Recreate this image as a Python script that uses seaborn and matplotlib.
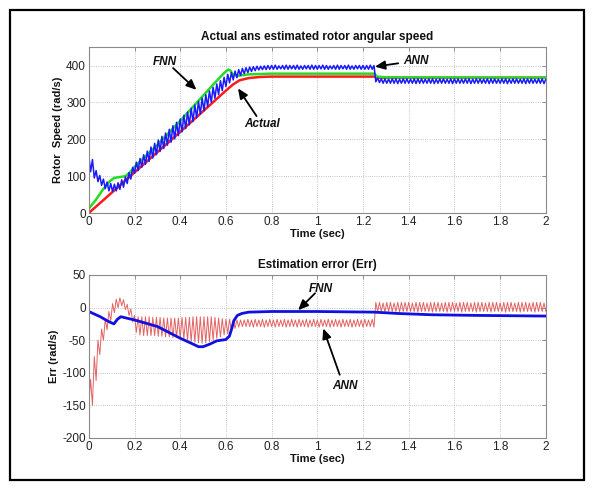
import numpy as np
import pandas as pd
import matplotlib
matplotlib.use("Agg")
import matplotlib.pyplot as plt
import seaborn as sns
from matplotlib.patches import Rectangle

# ---------------- data ----------------
# Top plot: actual speed (smooth)
t_actual = [0, 0.2, 0.4, 0.6, 0.63, 0.66, 0.7, 0.75, 0.8, 1.25, 1.26, 2.0]
speed_actual = [0, 110, 220, 332, 348, 360, 366, 369, 370, 370, 367, 367]

# Top plot: FNN estimated speed (smooth)
t_fnn = [0, 0.03, 0.06, 0.09, 0.11, 0.13, 0.16, 0.18, 0.2, 0.3, 0.4, 0.5, 0.55,
         0.58, 0.6, 0.61, 0.62, 0.63, 0.65, 0.7, 0.8, 1.25, 1.26, 1.3, 2.0]
speed_fnn = [12, 35, 62, 85, 95, 97, 100, 110, 125, 185, 250, 318, 352,
             372, 384, 389, 386, 376, 372, 376, 378, 378, 370, 368, 367]

# ANN samples (oscillating), sample step 0.008 s, 251 samples 0..2 s
t_ann = [round(0.008 * k, 3) for k in range(251)]
speed_ann = [
    155, 112, 145, 95, 115, 85, 102, 75, 92, 66, 84, 60, 80, 58, 78, 60, 82, 64, 90, 70, 98, 80, 110, 92, 124,
    108, 138, 115, 148, 124, 158, 132, 168, 140, 179, 149, 189, 158, 198, 167, 208, 175, 217, 184, 227, 192, 237, 201, 246, 210,
    255, 220, 265, 229, 274, 239, 284, 248, 293, 258, 303, 268, 312, 277, 321, 289, 331, 300, 341, 311, 350, 321, 359, 332, 368,
    343, 376, 353, 381, 361, 385, 367, 389, 373, 392, 378, 394, 381, 396, 384, 397, 386, 398, 388, 398, 389, 399, 389, 400, 390,
    400, 390, 401, 390, 399, 391, 400, 390, 401, 390, 400, 391, 400, 390, 401, 390, 399, 390, 400, 391, 400, 390, 401, 390, 400,
    390, 400, 391, 401, 390, 400, 390, 399, 391, 400, 390, 401, 390, 400, 391, 400, 390, 401, 390, 399, 390, 400, 391, 400, 390,
    400, 390, 400, 390, 401, 390, 400, 356, 366, 354, 364, 352, 364, 352, 363, 352, 364, 352, 364, 351, 363, 352, 364, 352, 364,
    352, 363, 352, 364, 351, 364, 352, 364, 352, 363, 352, 364, 352, 364, 351, 363, 352, 364, 352, 364, 352, 363, 352, 364, 351,
    364, 352, 364, 352, 363, 352, 364, 352, 364, 351, 363, 352, 364, 352, 364, 352, 363, 352, 364, 351, 364, 352, 364, 352, 363,
    352, 364, 352, 364, 351, 363, 352, 364, 352, 364, 352, 363, 352, 364, 351, 364, 352, 364, 352, 363, 352, 364, 352, 364, 351,
    363,
]

err_ann = [
    -150, -110, -150, -75, -112, -50, -72, -33, -50, -18, -34, -6, -20, 6, -8, 13, 0, 15, 3, 12, -3, 5, -12, -2, -22,
    -12, -38, -14, -42, -14, -43, -14, -43, -14, -43, -15, -43, -15, -44, -15, -44, -16, -45, -16, -45, -16, -46, -16, -46, -16,
    -47, -15, -48, -15, -50, -15, -52, -14, -53, -14, -54, -14, -55, -14, -54, -14, -52, -14, -50, -15, -47, -16, -45, -17, -42,
    -18, -40, -18, -36, -19, -32, -19, -30, -19, -29, -19, -29, -18, -29, -19, -30, -18, -29, -19, -29, -18, -30, -19, -29, -18,
    -29, -19, -30, -18, -29, -19, -29, -18, -30, -19, -29, -18, -29, -19, -30, -18, -29, -19, -29, -18, -30, -19, -29, -18, -29,
    -19, -30, -18, -29, -19, -29, -18, -30, -19, -29, -18, -29, -19, -30, -18, -29, -19, -29, -18, -30, -19, -29, -18, -29, -19,
    -30, -18, -29, -19, -29, -18, -30, 8, -6, 8, -6, 7, -7, 8, -6, 8, -6, 7, -6, 8, -7, 8, -6, 8, -6,
    8, -6, 7, -6, 8, -7, 8, -6, 8, -6, 7, -6, 8, -7, 8, -6, 8, -6, 7, -6, 8, -7, 8, -6, 8,
    -6, 7, -6, 8, -7, 8, -6, 8, -6, 7, -6, 8, -7, 8, -6, 8, -6, 7, -6, 8, -7, 8, -6, 8, -6,
    7, -6, 8, -7, 8, -6, 8, -6, 7, -6, 8, -7, 8, -6, 8, -6, 7, -6, 8, -7, 8, -6, 8, -6, 7,
    -6,
]

# Bottom plot: FNN error (smooth)
t_fnn_err = [0, 0.05, 0.09, 0.11, 0.125, 0.14, 0.2, 0.3, 0.4, 0.45, 0.48, 0.5, 0.53,
             0.56, 0.6, 0.615, 0.625, 0.635, 0.65, 0.67, 0.7, 0.8, 1.0, 1.25, 1.35,
             1.5, 1.7, 2.0]
err_fnn = [-6, -14, -22, -25, -18, -14, -19, -29, -47, -55, -60, -60, -56,
           -51, -49, -44, -33, -20, -12, -9, -7, -6, -6, -7, -9,
           -11, -12, -13]

x_ticks = [0, 0.2, 0.4, 0.6, 0.8, 1, 1.2, 1.4, 1.6, 1.8, 2]
x_tick_labels = ["0", "0.2", "0.4", "0.6", "0.8", "1", "1.2", "1.4", "1.6", "1.8", "2"]
speed_ticks = [0, 100, 200, 300, 400]
err_ticks = [-200, -150, -100, -50, 0, 50]

# ---------------- style ----------------
sns.set_theme(style="white")
plt.rcParams["font.family"] = ["Liberation Sans", "DejaVu Sans"]
plt.rcParams["axes.unicode_minus"] = False

fig = plt.figure(figsize=(5.92, 4.88), dpi=100)
ax1 = fig.add_axes([0.150, 0.5635, 0.772, 0.340])
ax2 = fig.add_axes([0.150, 0.1025, 0.772, 0.334])

# outer frame
fig.add_artist(Rectangle((10 / 592, 8 / 488), 574 / 592, 470 / 488,
                         transform=fig.transFigure, fill=False,
                         edgecolor="black", linewidth=1.6))

RED = "#ff1a1a"
GREEN = "#22dd22"
BLUE = "#1a1aff"

df_act = pd.DataFrame({"t": t_actual, "v": speed_actual})
df_fnn = pd.DataFrame({"t": t_fnn, "v": speed_fnn})
df_ann = pd.DataFrame({"t": t_ann, "v": speed_ann, "e": err_ann})
df_fe = pd.DataFrame({"t": t_fnn_err, "e": err_fnn})

sns.lineplot(data=df_act, x="t", y="v", ax=ax1, color=RED, lw=1.8, sort=False)
sns.lineplot(data=df_fnn, x="t", y="v", ax=ax1, color=GREEN, lw=1.8, sort=False)
sns.lineplot(data=df_ann, x="t", y="v", ax=ax1, color=BLUE, lw=1.1, sort=False)

sns.lineplot(data=df_ann, x="t", y="e", ax=ax2, color="#e36262", lw=0.7, sort=False)
sns.lineplot(data=df_fe, x="t", y="e", ax=ax2, color="#1010e0", lw=2.0, sort=False)

label_kw = dict(fontsize=8, fontweight="bold")

for ax, yl, yt, title, ylabel in [
    (ax1, (0, 450), speed_ticks, "Actual ans estimated rotor angular speed", "Rotor  Speed (rad/s)"),
    (ax2, (-200, 50), err_ticks, "Estimation error (Err)", "Err (rad/s)"),
]:
    ax.set_xlim(0, 2)
    ax.set_ylim(*yl)
    ax.set_xticks(x_ticks)
    ax.set_xticklabels(x_tick_labels)
    ax.set_yticks(yt)
    ax.tick_params(axis="both", direction="in", length=3, width=0.6,
                   color="#808080", labelsize=8.5, pad=2, top=True, right=True,
                   labelcolor="#222222")
    ax.grid(True, linestyle=":", color="#b0b0b0", linewidth=0.6)
    for s in ax.spines.values():
        s.set_color("#8a8a8a")
        s.set_linewidth(0.8)
    ax.set_title(title, fontsize=8.5, fontweight="bold", pad=5, color="#111111")
    ax.set_xlabel("Time (sec)", labelpad=1, color="#111111", **label_kw)
    ax.set_ylabel(ylabel, labelpad=2, color="#111111", **label_kw)

arrow_kw = dict(arrowstyle="-|>,head_length=0.5,head_width=0.22", color="black", lw=1.3,
                shrinkA=0, shrinkB=0)
ann_txt = dict(fontsize=8.5, fontweight="bold", fontstyle="italic", color="#111111",
               ha="center", va="center")

ax1.annotate("", xy=(0.471, 334), xytext=(0.369, 393), arrowprops=arrow_kw)
ax1.text(0.333, 410, "FNN", **ann_txt)
ax1.annotate("", xy=(0.653, 338), xytext=(0.734, 263), arrowprops=arrow_kw)
ax1.text(0.76, 242, "Actual", **ann_txt)
ax1.annotate("", xy=(1.252, 397), xytext=(1.354, 406), arrowprops=arrow_kw)
ax1.text(1.43, 412, "ANN", **ann_txt)

ax2.annotate("", xy=(0.916, -4), xytext=(0.99, 22), arrowprops=arrow_kw)
ax2.text(1.014, 28, "FNN", **ann_txt)
ax2.annotate("", xy=(1.026, -32), xytext=(1.098, -103), arrowprops=arrow_kw)
ax2.text(1.121, -121, "ANN", **ann_txt)

fig.savefig("out.png", dpi=100)
